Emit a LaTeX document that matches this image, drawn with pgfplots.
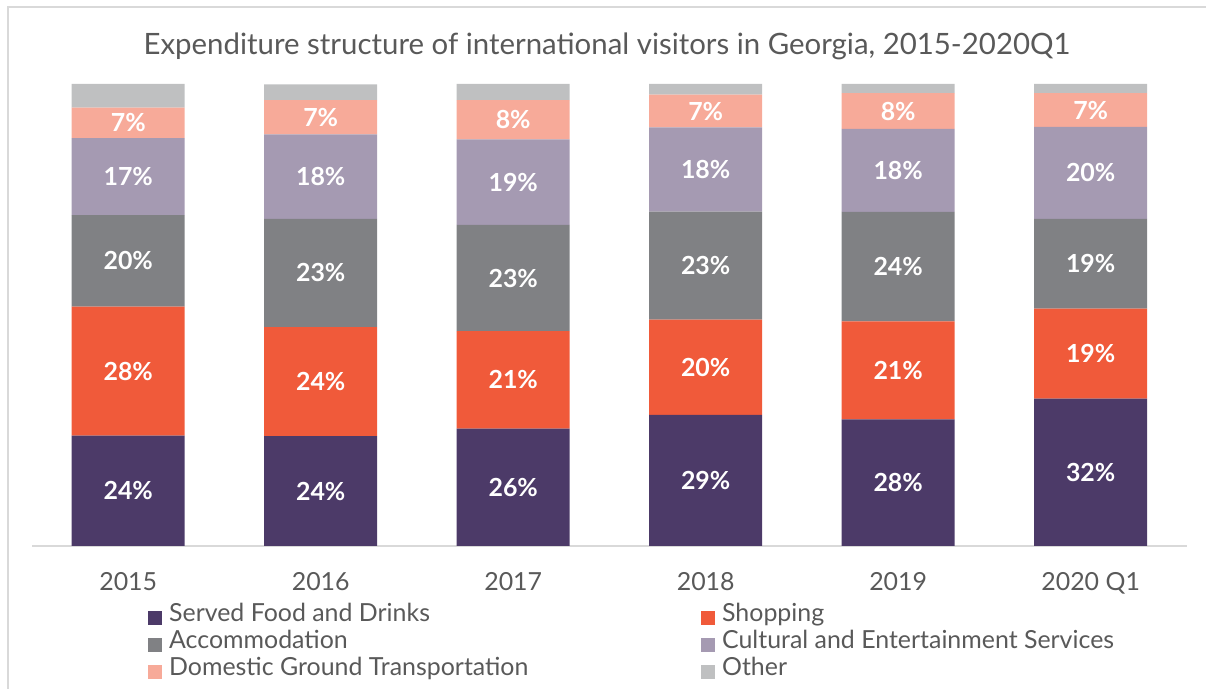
\documentclass[border=0pt]{standalone}
\usepackage{pgfplots}
\pgfplotsset{compat=1.18}
\usepackage{pgfplotstable}
\usepackage{fontspec}
\setmainfont{Lato}

\definecolor{food}{HTML}{4C3A68}
\definecolor{shop}{HTML}{F05A3A}
\definecolor{accom}{HTML}{808184}
\definecolor{cult}{HTML}{A59AB2}
\definecolor{trans}{HTML}{F7AA99}
\definecolor{other}{HTML}{BFC0C1}
\definecolor{txt}{HTML}{595959}
\definecolor{rule}{HTML}{D9D9D9}

% shares in percent, lab = printed label
\pgfplotstableread{
x y lab
0 23.9 24
1 23.8 24
2 25.4 26
3 28.4 29
4 27.4 28
5 31.9 32
}\food
\pgfplotstableread{
x y lab
0 27.9 28
1 23.6 24
2 21.1 21
3 20.6 20
4 21.2 21
5 19.5 19
}\shop
\pgfplotstableread{
x y lab
0 19.8 20
1 23.4 23
2 23.0 23
3 23.4 23
4 23.7 24
5 19.4 19
}\accom
\pgfplotstableread{
x y lab
0 16.7 17
1 18.3 18
2 18.5 19
3 18.2 18
4 18.0 18
5 19.9 20
}\cult
\pgfplotstableread{
x y lab
0 6.6 7
1 7.4 7
2 8.5 8
3 7.1 7
4 7.7 8
5 7.3 7
}\trans
\pgfplotstableread{
x y lab
0 5.1 5
1 3.4 3
2 3.5 3
3 2.3 2
4 2.0 2
5 2.0 2
}\other

\begin{document}
\begin{tikzpicture}
\useasboundingbox (0bp,0bp) rectangle (1206bp,689bp);
\draw[rule, line width=1.3bp] (8bp,0bp) -- (8bp,682bp) -- (1206bp,682bp);
\node[anchor=base, text=txt, font=\fontsize{29.5}{29.5}\selectfont, inner sep=0pt]
  at (607bp,634bp) {Expenditure structure of international visitors in Georgia, 2015-2020Q1};
\begin{axis}[
  at={(32bp,143bp)}, anchor=south west, scale only axis,
  width=1155bp, height=462bp,
  xmin=-0.5, xmax=5.5, ymin=0, ymax=100,
  ybar stacked, bar width=113bp,
  axis x line*=bottom, axis y line=none,
  x axis line style={draw=rule, line width=1.5bp, -},
  xtick={0,...,5},
  xticklabels={2015,2016,2017,2018,2019,2020 Q1},
  major tick length=0pt,
  xticklabel style={anchor=base, yshift=-44bp, text=txt,
    font=\fontsize{25}{25}\selectfont},
  ytick=\empty,
  point meta=explicit symbolic,
  nodes near coords={\pgfplotspointmeta\%},
  % stacked labels already sit mid-segment with anchor=center
  every node near coord/.append style={anchor=center, text=white,
    font=\bfseries\fontsize{25}{25}\selectfont},
  legend columns=2,
  legend image code/.code={\fill[#1] (0bp,-4bp) rectangle (14bp,10bp);
    \path (21bp,0bp);},
  legend style={at={(0.1004,-0.1234)}, anchor=north west, draw=none,
    fill=none, inner sep=0pt, row sep=0pt, text=txt,
    font=\fontsize{25}{25}\selectfont,
    nodes={inner sep=0pt, text height=18bp, text depth=9bp, anchor=base west}},
]
\addplot[fill=food, draw=none] table[x=x, y=y, meta=lab] {\food};
\addlegendentry{\makebox[532bp][l]{Served Food and Drinks}}
\addplot[fill=shop, draw=none] table[x=x, y=y, meta=lab] {\shop};
\addlegendentry{Shopping}
\addplot[fill=accom, draw=none] table[x=x, y=y, meta=lab] {\accom};
\addlegendentry{\makebox[532bp][l]{Accommodation}}
\addplot[fill=cult, draw=none] table[x=x, y=y, meta=lab] {\cult};
\addlegendentry{Cultural and Entertainment Services}
\addplot[fill=trans, draw=none] table[x=x, y=y, meta=lab] {\trans};
\addlegendentry{\makebox[532bp][l]{Domestic Ground Transportation}}
\addplot[fill=other, draw=none, nodes near coords={}] table[x=x, y=y, meta=lab] {\other};
\addlegendentry{Other}
\end{axis}
\end{tikzpicture}
\end{document}
